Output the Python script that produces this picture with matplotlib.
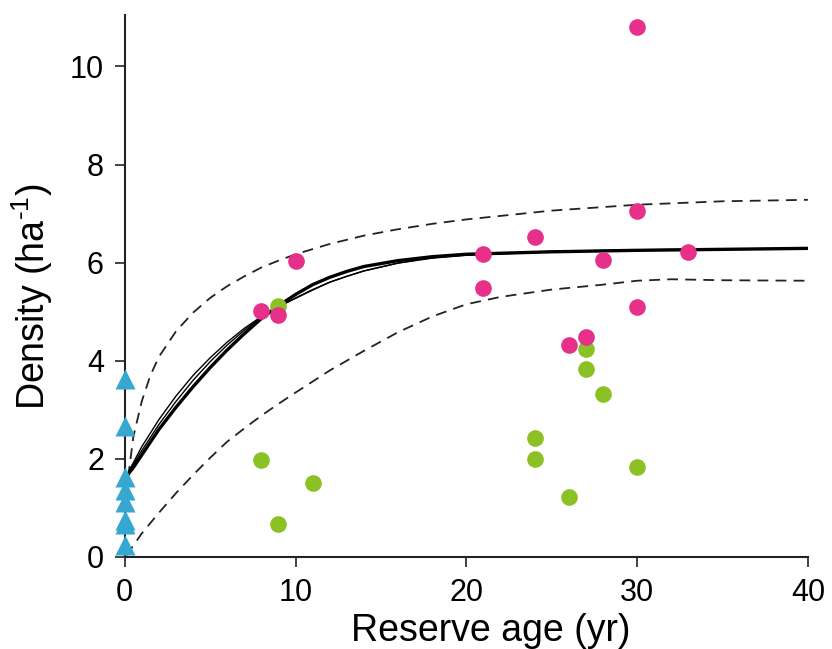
import matplotlib
matplotlib.use('Agg')
from matplotlib import pyplot as plt

plt.rcParams['font.family'] = ['Liberation Sans', 'DejaVu Sans']
plt.rcParams['mathtext.fontset'] = 'custom'
plt.rcParams['mathtext.rm'] = 'Liberation Sans'
plt.rcParams['mathtext.it'] = 'Liberation Sans:italic'

# protected reserves (pink) and fished / other sites (green)
pink_age = [8, 9, 10, 21, 21, 24, 26, 27, 28, 30, 30, 30, 33]
pink_density = [5.01, 4.93, 6.03, 6.17, 5.48, 6.53, 4.32, 4.48, 6.06, 10.81, 7.06, 5.09, 6.21]

green_age = [8, 9, 9, 11, 24, 24, 26, 27, 27, 28, 30]
green_density = [1.97, 0.67, 5.11, 1.50, 2.43, 1.99, 1.22, 4.24, 3.83, 3.33, 1.83]

# sites with reserve age 0
blue_age = [0, 0, 0, 0, 0, 0, 0, 0]
blue_density = [3.63, 2.67, 1.62, 1.36, 1.12, 0.75, 0.67, 0.24]

# fitted curve (thick) and alternative fits (thin)
fit_x = [0, 0.5, 1, 2, 3, 4, 5, 6, 7, 8, 9, 10, 11, 12, 13, 14, 16, 18, 20, 25, 30, 35, 40]
fit_y = [1.6, 1.82, 2.08, 2.6, 3.05, 3.47, 3.86, 4.22, 4.55, 4.86, 5.12, 5.35, 5.55, 5.7, 5.82, 5.92, 6.04, 6.12, 6.17, 6.22, 6.25, 6.27, 6.29]
alt1_y = [1.6, 1.92, 2.25, 2.8, 3.28, 3.7, 4.06, 4.38, 4.66, 4.9, 5.1, 5.28, 5.45, 5.6, 5.72, 5.83, 5.99, 6.1, 6.16, 6.23, 6.26, 6.28, 6.29]
alt2_y = [1.6, 1.88, 2.17, 2.7, 3.17, 3.6, 3.98, 4.32, 4.62, 4.89, 5.1, 5.27, 5.44, 5.6, 5.72, 5.83, 5.99, 6.09, 6.15, 6.22, 6.25, 6.27, 6.29]

upper_x = [0.2, 0.5, 1, 1.5, 2, 3, 4, 5, 6, 7, 8, 9, 10, 12, 14, 16, 18, 20, 25, 30, 35, 40]
upper_y = [1.63, 2.45, 3.18, 3.7, 4.08, 4.6, 4.98, 5.28, 5.52, 5.72, 5.9, 6.04, 6.17, 6.38, 6.55, 6.68, 6.79, 6.88, 7.06, 7.18, 7.25, 7.28]

lower_x = [0.1, 1, 2, 3, 4, 5, 6, 7, 8, 9, 10, 12, 14, 16, 18, 20, 22, 25, 28, 30, 32, 35, 40]
lower_y = [0.03, 0.48, 0.9, 1.3, 1.67, 2.02, 2.35, 2.62, 2.88, 3.12, 3.35, 3.8, 4.2, 4.58, 4.9, 5.15, 5.3, 5.45, 5.55, 5.63, 5.66, 5.64, 5.63]

fig = plt.figure(figsize=(8.32, 6.49), dpi=100)
ax = fig.add_axes([0.150, 0.142, 0.821, 0.835])

ax.plot(upper_x, upper_y, color='#222222', lw=1.3, ls=(0, (6, 4)), zorder=2)
ax.plot(lower_x, lower_y, color='#222222', lw=1.3, ls=(0, (6, 4)), zorder=2)
ax.plot(fit_x, alt1_y, color='black', lw=1.0, zorder=2)
ax.plot(fit_x, alt2_y, color='black', lw=1.0, zorder=2)
ax.plot(fit_x, fit_y, color='black', lw=2.4, zorder=3)

ax.plot(green_age, green_density, 'o', color='#8cc125', ms=12, mec='none', zorder=4)
ax.plot(pink_age, pink_density, 'o', color='#e6308a', ms=12, mec='none', zorder=5)
ax.plot(blue_age, blue_density, '^', color='#35a7d1', ms=14, mec='none', zorder=6,
        clip_on=False)

ax.set_xlim(0, 40)
ax.set_ylim(0, 11.05)
ax.set_xticks([0, 10, 20, 30, 40])
ax.set_yticks([0, 2, 4, 6, 8, 10])

for side in ['top', 'right']:
    ax.spines[side].set_visible(False)
for side in ['left', 'bottom']:
    ax.spines[side].set_linewidth(1.5)
    ax.spines[side].set_color('#222222')

ax.tick_params(direction='out', length=7, width=1.2, labelsize=22, color='#222222', pad=8)
ax.set_xlabel('Reserve age (yr)', fontsize=27)
ax.set_ylabel('Density (ha$^{\\text{-1}}$)', fontsize=27)
ax.xaxis.set_label_coords(0.536, -0.104)
ax.yaxis.set_label_coords(-0.102, 0.48)

fig.savefig('out.png', dpi=100)
